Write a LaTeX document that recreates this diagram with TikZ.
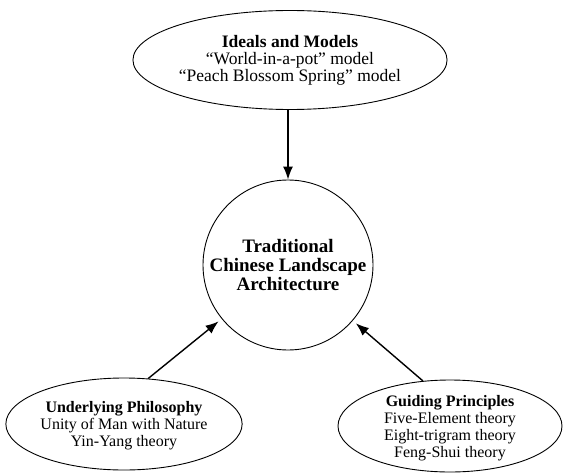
\documentclass[tikz,border=0pt]{standalone}
\usepackage{fontspec}
\setmainfont{Liberation Serif}
\usetikzlibrary{shapes.geometric,arrows.meta}
\begin{document}
\begin{tikzpicture}[x=1pt,y=-1pt,
    oval/.style={draw,ellipse,line width=0.9pt,inner sep=0pt,align=center,
      font=\fontsize{16}{17}\selectfont},
    hub/.style={draw,circle,line width=0.9pt,minimum size=170pt,inner sep=0pt,
      align=center,font=\bfseries\fontsize{19}{19}\selectfont},
    link/.style={-{Latex[length=13pt,width=10pt]},line width=1.4pt}]
  \useasboundingbox (0,0) rectangle (564,473);
  \draw
    (290,60) node[oval,minimum width=232pt,minimum height=99pt,
      font=\fontsize{17.5}{17}\selectfont] (ideals){\textbf{Ideals and Models}\\“World-in-a-pot” model\\“Peach Blossom Spring” model}
    (288,265) node[hub] (tcla){Traditional\\Chinese Landscape\\Architecture}
    (124,424) node[oval,minimum width=233pt,minimum height=92pt,text depth=-8pt] (philo){\textbf{Underlying Philosophy}\\Unity of Man with Nature\\Yin-Yang theory}
    (450,426) node[oval,minimum width=224pt,minimum height=92pt,text depth=-8pt] (guide){\textbf{Guiding Principles}\\Five-Element theory\\Eight-trigram theory\\Feng-Shui theory};
  \begin{scope}[link]
    \draw (ideals.south -| tcla) to (tcla);
    \draw[shorten >=4pt] (philo.62) to (tcla);
    \draw[shorten >=4pt] (guide.121) to (tcla);
  \end{scope}
\end{tikzpicture}
\end{document}
